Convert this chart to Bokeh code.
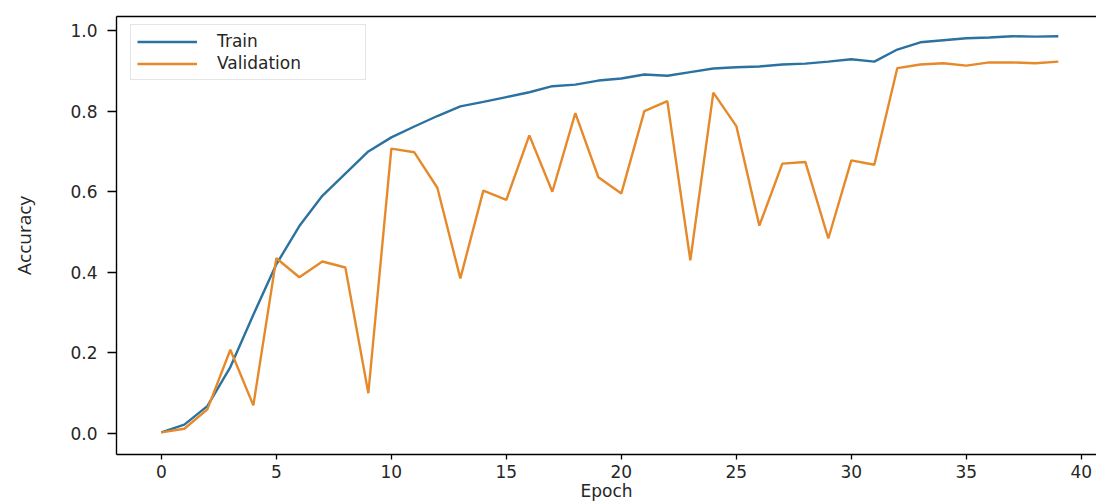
from bokeh.plotting import figure
from bokeh.models import Range1d, FixedTicker, NumeralTickFormatter, LinearAxis, Legend, LegendItem, ColumnDataSource
from bokeh.embed import file_html
from bokeh.resources import INLINE

epochs = list(range(40))
train_acc = [0.003, 0.022, 0.068, 0.165, 0.295, 0.42, 0.515, 0.59, 0.645, 0.70,
             0.735, 0.762, 0.788, 0.812, 0.823, 0.835, 0.847, 0.862, 0.866, 0.876,
             0.881, 0.891, 0.888, 0.897, 0.906, 0.909, 0.911, 0.916, 0.918, 0.923,
             0.929, 0.923, 0.953, 0.971, 0.976, 0.981, 0.983, 0.986, 0.985, 0.986]
val_acc = [0.003, 0.012, 0.06, 0.208, 0.07, 0.435, 0.388, 0.427, 0.412, 0.10,
           0.707, 0.698, 0.61, 0.385, 0.603, 0.58, 0.74, 0.60, 0.795, 0.636,
           0.596, 0.80, 0.825, 0.43, 0.846, 0.763, 0.516, 0.67, 0.674, 0.484,
           0.678, 0.667, 0.907, 0.916, 0.919, 0.913, 0.921, 0.921, 0.919, 0.923]
series_names = ["Train", "Validation"]
series_colors = ["#2b72a0", "#e6892a"]
x_ticks = [0, 5, 10, 15, 20, 25, 30, 35, 40]
y_ticks = [0.0, 0.2, 0.4, 0.6, 0.8, 1.0]

src = ColumnDataSource(dict(epoch=epochs, train=train_acc, val=val_acc))

p = figure(width=1096, height=503, output_backend="svg", toolbar_location=None,
           x_range=Range1d(-1.95, 40.66), y_range=Range1d(-0.052, 1.035),
           min_border_left=116, min_border_right=0, min_border_top=16, min_border_bottom=0)
p.outline_line_color = None
p.background_fill_color = "white"
p.border_fill_color = "white"
p.grid.visible = False

r1 = p.line("epoch", "train", source=src, line_color=series_colors[0], line_width=2.4)
r2 = p.line("epoch", "val", source=src, line_color=series_colors[1], line_width=2.4)

for ax in [p.xaxis[0], p.yaxis[0]]:
    ax.axis_line_color = "black"
    ax.axis_line_width = 1.4
    ax.major_tick_line_color = "black"
    ax.major_tick_line_width = 1.3
    ax.minor_tick_line_color = None
    ax.major_tick_in = 0
    ax.major_label_text_font = "DejaVu Sans"
    ax.major_label_text_font_size = "17px"
    ax.major_label_text_color = "#262626"

p.xaxis[0].ticker = FixedTicker(ticks=x_ticks)
p.xaxis[0].major_tick_out = 5
p.xaxis[0].major_label_standoff = 5
p.xaxis[0].axis_label = "Epoch"
p.xaxis[0].axis_label_text_font = "DejaVu Sans"
p.xaxis[0].axis_label_text_font_size = "17px"
p.xaxis[0].axis_label_text_font_style = "normal"
p.xaxis[0].axis_label_text_color = "#262626"
p.xaxis[0].axis_label_standoff = 0

p.yaxis[0].ticker = FixedTicker(ticks=y_ticks)
p.yaxis[0].formatter = NumeralTickFormatter(format="0.0")
p.yaxis[0].major_tick_out = 9
p.yaxis[0].major_label_standoff = 10
p.yaxis[0].axis_label = "Accuracy"
p.yaxis[0].axis_label_text_font = "Open Sans"
p.yaxis[0].axis_label_text_font_size = "19px"
p.yaxis[0].axis_label_text_font_style = "normal"
p.yaxis[0].axis_label_text_color = "#262626"
p.yaxis[0].axis_label_standoff = 30

top_axis = LinearAxis(ticker=FixedTicker(ticks=[]), axis_line_color="black", axis_line_width=1.4,
                      major_tick_out=0, major_tick_in=0, minor_tick_out=0, minor_tick_in=0,
                      major_label_text_font_size="0px", major_label_standoff=0)
p.add_layout(top_axis, "above")

legend = Legend(items=[LegendItem(label=series_names[0], renderers=[r1]),
                       LegendItem(label=series_names[1], renderers=[r2])],
                location=(14, 374), margin=0, padding=6, spacing=2,
                glyph_width=60, glyph_height=19, label_height=19, label_width=142,
                label_standoff=20, label_text_font="DejaVu Sans", label_text_font_size="17px",
                label_text_color="#262626", border_line_color="#cccccc", border_line_width=1,
                background_fill_color="white", background_fill_alpha=0.85)
p.add_layout(legend)

open("out.html", "w").write(file_html(p, INLINE))
